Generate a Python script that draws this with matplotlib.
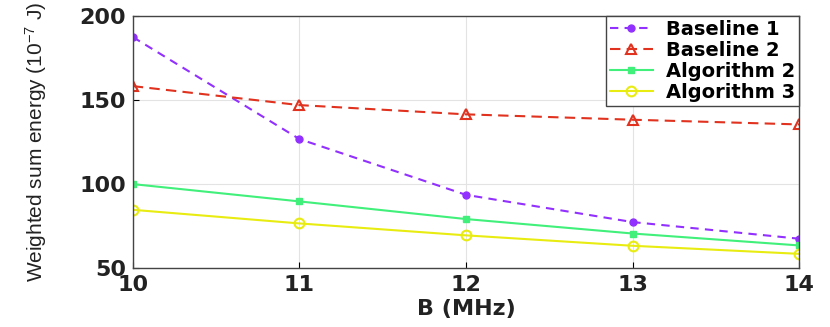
import matplotlib
matplotlib.use('Agg')
import matplotlib.pyplot as plt

bandwidth = [10, 11, 12, 13, 14]
baseline1 = [187.5, 126.8, 93.6, 77.4, 67.5]
baseline2 = [158.3, 147.0, 141.5, 138.3, 135.5]
algorithm2 = [100.0, 89.7, 79.2, 70.6, 63.5]
algorithm3 = [84.7, 76.6, 69.5, 63.3, 58.5]

plt.rcParams['font.family'] = ['DejaVu Sans']
plt.rcParams['mathtext.default'] = 'regular'

fig = plt.figure(figsize=(8.3, 3.27), dpi=100)
ax = fig.add_axes([0.160, 0.180, 0.803, 0.771])

ax.plot(bandwidth, baseline1, '--', color='#9130FF', marker='o', markersize=5,
        linewidth=1.5, label='Baseline 1', dashes=(4, 3))
ax.plot(bandwidth, baseline2, '--', color='#E0321E', marker='^', markersize=7,
        markerfacecolor='none', markeredgewidth=1.5, linewidth=1.5,
        label='Baseline 2', dashes=(5, 3))
ax.plot(bandwidth, algorithm2, '-', color='#40F07A', marker='s', markersize=5,
        linewidth=1.5, label='Algorithm 2')
ax.plot(bandwidth, algorithm3, '-', color='#E8EC10', marker='o', markersize=7,
        markerfacecolor='none', markeredgewidth=1.5, linewidth=1.5,
        label='Algorithm 3')

ax.set_xlim(10, 14)
ax.set_ylim(50, 200)
ax.set_xticks(bandwidth)
ax.set_yticks([50, 100, 150, 200])
ax.grid(True, color='#E3E3E3', linewidth=0.8)
ax.tick_params(direction='in', length=4, labelsize=16, pad=5)
for lbl in ax.get_xticklabels() + ax.get_yticklabels():
    lbl.set_fontweight('bold')
    lbl.set_color('#222222')
for s in ax.spines.values():
    s.set_color('#444444')
    s.set_linewidth(1.0)

ax.set_xlabel('B (MHz)', fontsize=16, fontweight='bold', color='#222222', labelpad=3)
ax.set_ylabel('Weighted sum energy (10$^{-7}$ J)', fontsize=15, color='#222222',
              family='Liberation Sans')
ax.yaxis.set_label_coords(-0.125, 0.5)

leg = ax.legend(loc='upper right', borderaxespad=0, fancybox=False,
                prop={'weight': 'bold', 'size': 14}, handlelength=2.2,
                labelspacing=0.1, borderpad=0.2, handletextpad=0.7)
leg.get_frame().set_edgecolor('#444444')
leg.get_frame().set_linewidth(1.0)
leg.get_frame().set_alpha(1)

fig.savefig('out.png', dpi=100)
